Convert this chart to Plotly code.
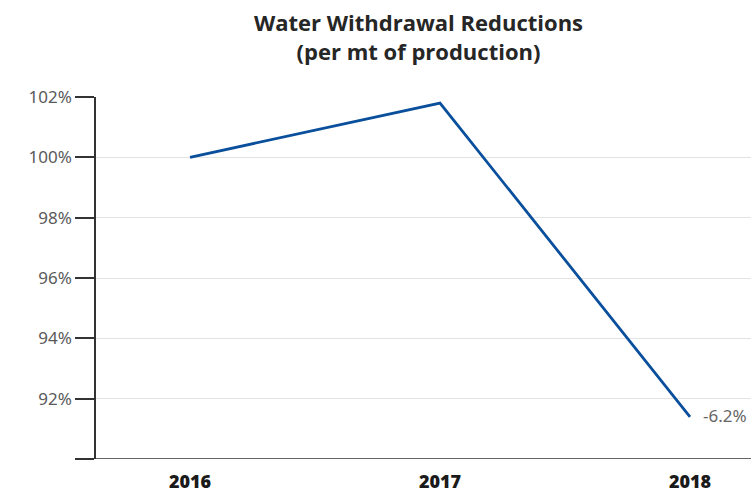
import plotly.graph_objects as go

# Water withdrawal index per metric tonne of production (2016 = 100%)
years = ["2016", "2017", "2018"]
withdrawal_pct = [100.0, 101.8, 91.4]
change_label = "-6.2%"
y_ticks = [90, 92, 94, 96, 98, 100, 102]
y_tick_text = ["", "92%", "94%", "96%", "98%", "100%", "102%"]

PLOT_TOP, PLOT_BOTTOM, HEIGHT = 97, 36, 495
plot_h = HEIGHT - PLOT_TOP - PLOT_BOTTOM

fig = go.Figure()
fig.add_trace(go.Scatter(
    x=years, y=withdrawal_pct, mode="lines",
    line=dict(color="#0a4f9c", width=2.8),
    hoverinfo="x+y", cliponaxis=False,
))

fig.add_annotation(
    x=len(years) - 1, y=withdrawal_pct[-1], xref="x", yref="y", text=change_label,
    showarrow=False, xanchor="left", yanchor="middle", xshift=11, yshift=1,
    font=dict(family="Noto Sans", size=17, color="#666666"),
)

# Two-line bold heading, top edge ~5px below the page top
fig.add_annotation(
    xref="paper", yref="paper", x=0.493, y=1 + (PLOT_TOP - 5) / plot_h,
    text="<b>Water Withdrawal Reductions<br>(per mt of production)</b>",
    showarrow=False, xanchor="center", yanchor="top", align="center",
    font=dict(family="Open Sans", size=22, color="#262626"),
)

fig.update_layout(
    width=751, height=HEIGHT,
    margin=dict(l=96, r=0, t=PLOT_TOP, b=PLOT_BOTTOM),
    paper_bgcolor="white", plot_bgcolor="white",
    showlegend=False,
    xaxis=dict(
        type="category", range=[-0.376, 2.244],
        showgrid=False, showline=False, ticks="",
        tickfont=dict(family="Open Sans", size=18, color="#1a1a1a", weight=800),
        ticklabelstandoff=10,
        zeroline=False, fixedrange=True,
    ),
    yaxis=dict(
        range=[90, 102], tickvals=y_ticks, ticktext=y_tick_text,
        showgrid=True, gridcolor="#e3e3e3", gridwidth=1,
        showline=True, linecolor="#333333", linewidth=1.5,
        ticks="outside", ticklen=19, tickcolor="#333333", tickwidth=1.5,
        tickfont=dict(family="Noto Sans", size=17, color="#5a5a5a"),
        zeroline=False, fixedrange=True,
    ),
)

# Baseline drawn across the plot bottom and under the left tick
fig.add_shape(type="line", xref="paper", yref="y", x0=-19/655, x1=1, y0=90, y1=90,
              line=dict(color="#333333", width=1.5))

fig.write_html("out.html")
